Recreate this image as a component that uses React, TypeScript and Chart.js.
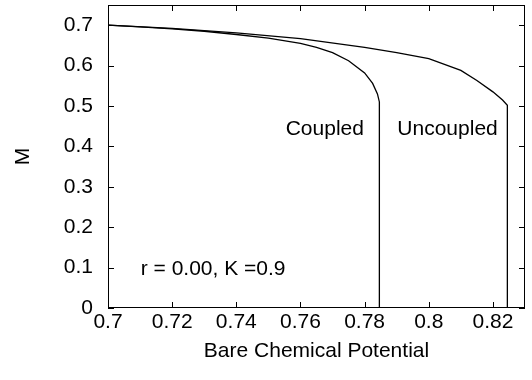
import React, { useEffect, useRef } from "react";
import { Chart, registerables } from "chart.js";

Chart.register(...registerables);

const coupledX = [0.70, 0.71, 0.72, 0.73, 0.74, 0.75, 0.76, 0.765, 0.77, 0.775, 0.78, 0.7825, 0.784, 0.7846, 0.7846];
const coupledY = [0.700, 0.696, 0.691, 0.685, 0.677, 0.668, 0.655, 0.645, 0.632, 0.612, 0.582, 0.556, 0.530, 0.510, 0];

const uncoupledX = [0.70, 0.72, 0.74, 0.76, 0.78, 0.79, 0.80, 0.81, 0.815, 0.82, 0.823, 0.8245, 0.8245];
const uncoupledY = [0.700, 0.692, 0.681, 0.667, 0.645, 0.632, 0.617, 0.588, 0.563, 0.535, 0.515, 0.502, 0];

const xTicks = [0.7, 0.72, 0.74, 0.76, 0.78, 0.8, 0.82];
const yTicks = [0, 0.1, 0.2, 0.3, 0.4, 0.5, 0.6, 0.7];
const X_MIN = 0.7;
const X_MAX = 0.83;
const Y_MIN = 0;
const Y_MAX = 0.75;

const labelTexts = ["Coupled", "Uncoupled", "r = 0.00, K =0.9"];
const labelX = [0.7554, 0.7902, 0.7102];
const labelY = [0.428, 0.428, 0.0816];

const FONT = "'Liberation Sans', Arial, Helvetica, sans-serif";
const FSIZE = 21;

const framePlugin = {
  id: "frame",
  afterDraw(chart: any) {
    const { ctx, chartArea, scales } = chart;
    const { left, right, top, bottom } = chartArea;
    ctx.save();
    ctx.strokeStyle = "#000";
    ctx.lineWidth = 1;
    ctx.strokeRect(left + 0.5, top + 0.5, right - left - 1, bottom - top - 1);
    const tl = 6;
    ctx.beginPath();
    xTicks.forEach((v) => {
      const px = Math.round(scales.x.getPixelForValue(v)) + 0.5;
      ctx.moveTo(px, bottom);
      ctx.lineTo(px, bottom - tl);
      ctx.moveTo(px, top);
      ctx.lineTo(px, top + tl);
    });
    yTicks.forEach((v) => {
      const py = Math.round(scales.y.getPixelForValue(v)) + 0.5;
      ctx.moveTo(left, py);
      ctx.lineTo(left + tl, py);
      ctx.moveTo(right, py);
      ctx.lineTo(right - tl, py);
    });
    ctx.stroke();
    ctx.fillStyle = "#000";
    ctx.font = `${FSIZE}px ${FONT}`;
    ctx.textBaseline = "alphabetic";
    ctx.textAlign = "left";
    labelTexts.forEach((t, i) => {
      ctx.fillText(t, scales.x.getPixelForValue(labelX[i]), scales.y.getPixelForValue(labelY[i]));
    });
    ctx.restore();
  },
};

export default function App() {
  const ref = useRef<HTMLCanvasElement>(null);
  useEffect(() => {
    document.body.style.margin = "0";
    const toPts = (xs: number[], ys: number[]) => xs.map((x, i) => ({ x, y: ys[i] }));
    const chart = new Chart(ref.current!, {
      type: "scatter",
      data: {
        datasets: [
          {
            label: "Coupled",
            data: toPts(coupledX, coupledY),
            showLine: true,
            borderColor: "#000",
            borderWidth: 1.3,
            pointRadius: 0,
            tension: 0,
          },
          {
            label: "Uncoupled",
            data: toPts(uncoupledX, uncoupledY),
            showLine: true,
            borderColor: "#000",
            borderWidth: 1.3,
            pointRadius: 0,
            tension: 0,
          },
        ],
      },
      options: {
        animation: false,
        responsive: false,
        maintainAspectRatio: false,
        layout: { padding: { left: 0, right: 7, top: 5, bottom: 10 } },
        plugins: { legend: { display: false }, tooltip: { enabled: false } },
        scales: {
          x: {
            type: "linear",
            min: X_MIN,
            max: X_MAX,
            afterBuildTicks: (s: any) => {
              s.ticks = [...xTicks, X_MAX].map((v) => ({ value: v }));
            },
            afterFit: (s: any) => {
              s.height = 62;
              s.paddingLeft = 0;
              s.paddingRight = 0;
            },
            grid: { display: false, drawTicks: false },
            border: { display: false },
            ticks: {
              color: "#000",
              font: { family: FONT, size: FSIZE },
              padding: 2,
              maxRotation: 0,
              autoSkip: false,
              callback: (v: any) => (xTicks.includes(v) ? String(v) : null),
            },
            title: {
              display: true,
              text: "Bare Chemical Potential",
              color: "#000",
              font: { family: FONT, size: FSIZE },
              padding: { top: 0, bottom: 6 },
            },
          },
          y: {
            type: "linear",
            min: Y_MIN,
            max: Y_MAX,
            afterBuildTicks: (s: any) => {
              s.ticks = [...yTicks, Y_MAX].map((v) => ({ value: v }));
            },
            afterFit: (s: any) => {
              s.width = 108;
              s.paddingTop = 0;
              s.paddingBottom = 0;
            },
            grid: { display: false, drawTicks: false },
            border: { display: false },
            ticks: {
              color: "#000",
              font: { family: FONT, size: FSIZE },
              padding: 15,
              autoSkip: false,
              callback: (v: any) => (yTicks.includes(v) ? String(v) : null),
            },
            title: {
              display: true,
              text: "M",
              color: "#000",
              font: { family: FONT, size: FSIZE },
              padding: { top: 11, bottom: 0 },
            },
          },
        },
      },
      plugins: [framePlugin],
    });
    return () => chart.destroy();
  }, []);
  return (
    <div style={{ width: 532, height: 380, background: "#fff" }}>
      <canvas ref={ref} width={532} height={380} style={{ display: "block" }} />
    </div>
  );
}
